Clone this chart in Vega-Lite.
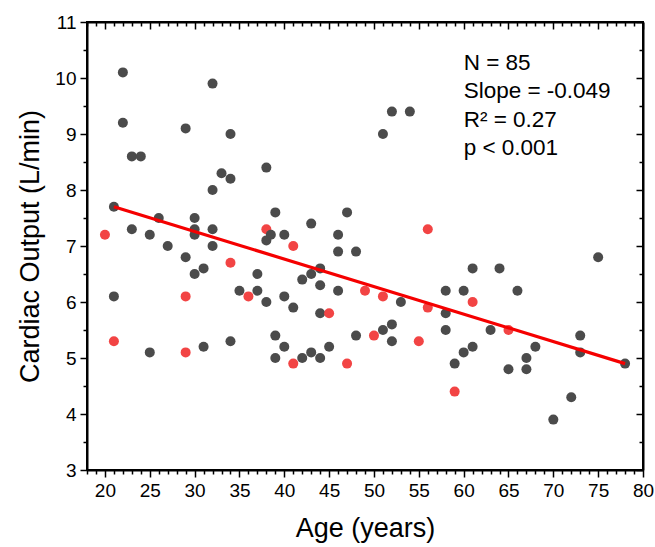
{
  "$schema": "https://vega.github.io/schema/vega-lite/v6.json",
  "width": 556,
  "height": 448,
  "autosize": {"type": "none"},
  "padding": {"left": 87, "top": 22, "right": 12, "bottom": 77},
  "config": {
    "view": {"stroke": "black", "strokeWidth": 2},
    "font": "Liberation Sans",
    "axis": {
      "domainColor": "black", "tickColor": "black", "labelColor": "black", "titleColor": "black",
      "domainWidth": 2, "tickWidth": 1.5, "grid": false,
      "labelFont": "Liberation Sans", "titleFont": "Liberation Sans", "titleFontWeight": "normal",
      "labelFontSize": 19, "titleFontSize": 27, "labelOverlap": false, "labelFlush": false
    }
  },
  "datasets": {
    "pts": [
      {"age": 38, "co": 7.3, "group": "r"},
      {"age": 22, "co": 10.1, "group": "g"},
      {"age": 32, "co": 9.9, "group": "g"},
      {"age": 22, "co": 9.2, "group": "g"},
      {"age": 29, "co": 9.1, "group": "g"},
      {"age": 34, "co": 9.0, "group": "g"},
      {"age": 23, "co": 8.6, "group": "g"},
      {"age": 24, "co": 8.6, "group": "g"},
      {"age": 38, "co": 8.4, "group": "g"},
      {"age": 33, "co": 8.3, "group": "g"},
      {"age": 34, "co": 8.2, "group": "g"},
      {"age": 32, "co": 8.0, "group": "g"},
      {"age": 21, "co": 7.7, "group": "g"},
      {"age": 52, "co": 9.4, "group": "g"},
      {"age": 54, "co": 9.4, "group": "g"},
      {"age": 51, "co": 9.0, "group": "g"},
      {"age": 39, "co": 7.6, "group": "g"},
      {"age": 47, "co": 7.6, "group": "g"},
      {"age": 23, "co": 7.3, "group": "g"},
      {"age": 25, "co": 7.2, "group": "g"},
      {"age": 26, "co": 7.5, "group": "g"},
      {"age": 27, "co": 7.0, "group": "g"},
      {"age": 29, "co": 6.8, "group": "g"},
      {"age": 30, "co": 7.5, "group": "g"},
      {"age": 30, "co": 7.3, "group": "g"},
      {"age": 30, "co": 7.2, "group": "g"},
      {"age": 30, "co": 6.5, "group": "g"},
      {"age": 31, "co": 6.6, "group": "g"},
      {"age": 32, "co": 7.3, "group": "g"},
      {"age": 32, "co": 7.0, "group": "g"},
      {"age": 21, "co": 6.1, "group": "g"},
      {"age": 35, "co": 6.2, "group": "g"},
      {"age": 37, "co": 6.5, "group": "g"},
      {"age": 37, "co": 6.2, "group": "g"},
      {"age": 38, "co": 6.0, "group": "g"},
      {"age": 38, "co": 7.1, "group": "g"},
      {"age": 38.5, "co": 7.2, "group": "g"},
      {"age": 40, "co": 7.2, "group": "g"},
      {"age": 43, "co": 7.4, "group": "g"},
      {"age": 46, "co": 7.2, "group": "g"},
      {"age": 46, "co": 6.9, "group": "g"},
      {"age": 48, "co": 6.9, "group": "g"},
      {"age": 40, "co": 6.1, "group": "g"},
      {"age": 41, "co": 5.9, "group": "g"},
      {"age": 42, "co": 6.4, "group": "g"},
      {"age": 43, "co": 6.5, "group": "g"},
      {"age": 44, "co": 6.6, "group": "g"},
      {"age": 44, "co": 6.3, "group": "g"},
      {"age": 46, "co": 6.2, "group": "g"},
      {"age": 53, "co": 6.0, "group": "g"},
      {"age": 58, "co": 6.2, "group": "g"},
      {"age": 58, "co": 5.8, "group": "g"},
      {"age": 58, "co": 5.5, "group": "g"},
      {"age": 44, "co": 5.8, "group": "g"},
      {"age": 51, "co": 5.5, "group": "g"},
      {"age": 52, "co": 5.6, "group": "g"},
      {"age": 75, "co": 6.8, "group": "g"},
      {"age": 61, "co": 6.6, "group": "g"},
      {"age": 64, "co": 6.6, "group": "g"},
      {"age": 60, "co": 6.2, "group": "g"},
      {"age": 66, "co": 6.2, "group": "g"},
      {"age": 63, "co": 5.5, "group": "g"},
      {"age": 25, "co": 5.1, "group": "g"},
      {"age": 31, "co": 5.2, "group": "g"},
      {"age": 34, "co": 5.3, "group": "g"},
      {"age": 39, "co": 5.4, "group": "g"},
      {"age": 40, "co": 5.2, "group": "g"},
      {"age": 39, "co": 5.0, "group": "g"},
      {"age": 42, "co": 5.0, "group": "g"},
      {"age": 43, "co": 5.1, "group": "g"},
      {"age": 44, "co": 5.0, "group": "g"},
      {"age": 45, "co": 5.2, "group": "g"},
      {"age": 48, "co": 5.4, "group": "g"},
      {"age": 52, "co": 5.3, "group": "g"},
      {"age": 59, "co": 4.9, "group": "g"},
      {"age": 60, "co": 5.1, "group": "g"},
      {"age": 61, "co": 5.2, "group": "g"},
      {"age": 65, "co": 4.8, "group": "g"},
      {"age": 67, "co": 5.0, "group": "g"},
      {"age": 67, "co": 4.8, "group": "g"},
      {"age": 68, "co": 5.2, "group": "g"},
      {"age": 70, "co": 3.9, "group": "g"},
      {"age": 72, "co": 4.3, "group": "g"},
      {"age": 73, "co": 5.4, "group": "g"},
      {"age": 73, "co": 5.1, "group": "g"},
      {"age": 78, "co": 4.9, "group": "g"},
      {"age": 20, "co": 7.2, "group": "r"},
      {"age": 29, "co": 6.1, "group": "r"},
      {"age": 34, "co": 6.7, "group": "r"},
      {"age": 36, "co": 6.1, "group": "r"},
      {"age": 41, "co": 7.0, "group": "r"},
      {"age": 56, "co": 7.3, "group": "r"},
      {"age": 49, "co": 6.2, "group": "r"},
      {"age": 51, "co": 6.1, "group": "r"},
      {"age": 56, "co": 5.9, "group": "r"},
      {"age": 45, "co": 5.8, "group": "r"},
      {"age": 61, "co": 6.0, "group": "r"},
      {"age": 65, "co": 5.5, "group": "r"},
      {"age": 21, "co": 5.3, "group": "r"},
      {"age": 29, "co": 5.1, "group": "r"},
      {"age": 41, "co": 4.9, "group": "r"},
      {"age": 47, "co": 4.9, "group": "r"},
      {"age": 50, "co": 5.4, "group": "r"},
      {"age": 55, "co": 5.3, "group": "r"},
      {"age": 59, "co": 4.4, "group": "r"}
    ],
    "fit": [
      {"age": 21, "co": 7.7},
      {"age": 78, "co": 4.9}
    ],
    "stats": [
      {"age": 60, "co": 10.27, "label": "N = 85"},
      {"age": 60, "co": 9.76, "label": "Slope = -0.049"},
      {"age": 60, "co": 9.25, "label": "R² = 0.27"},
      {"age": 60, "co": 8.75, "label": "p < 0.001"}
    ]
  },
  "layer": [
    {
      "data": {"name": "pts"},
      "mark": {"type": "circle", "size": 100, "opacity": 1},
      "encoding": {
        "x": {
          "field": "age", "type": "quantitative",
          "scale": {"domain": [18, 80], "nice": false, "zero": false},
          "axis": {
            "orient": "bottom", "title": "Age (years)",
            "values": [18,19,20,21,22,23,24,25,26,27,28,29,30,31,32,33,34,35,36,37,38,39,40,41,42,43,44,45,46,47,48,49,50,51,52,53,54,55,56,57,58,59,60,61,62,63,64,65,66,67,68,69,70,71,72,73,74,75,76,77,78,79,80],
            "tickSize": {"condition": {"test": "datum.value % 5 === 0", "value": 7}, "value": 4},
            "labelExpr": "datum.value % 5 === 0 ? datum.label : ''",
            "labelPadding": 4, "titlePadding": 15
          }
        },
        "y": {
          "field": "co", "type": "quantitative",
          "scale": {"domain": [3, 11], "nice": false, "zero": false},
          "axis": {
            "orient": "left", "title": "Cardiac Output (L/min)", "format": ".0f",
            "values": [3,3.5,4,4.5,5,5.5,6,6.5,7,7.5,8,8.5,9,9.5,10,10.5,11],
            "tickSize": {"condition": {"test": "datum.value % 1 === 0", "value": 7}, "value": 4},
            "labelExpr": "datum.value % 1 === 0 ? datum.label : ''",
            "labelPadding": 4, "titlePadding": 10
          }
        },
        "color": {
          "field": "group", "type": "nominal",
          "scale": {"domain": ["g", "r"], "range": ["#4b4b4b", "#f24444"]},
          "legend": null
        }
      }
    },
    {
      "data": {"name": "fit"},
      "mark": {"type": "line", "color": "#f50000", "strokeWidth": 3.2},
      "encoding": {
        "x": {
          "field": "age", "type": "quantitative",
          "scale": {"domain": [18, 80], "nice": false, "zero": false},
          "axis": {
            "orient": "bottom", "offset": -448, "title": null, "labels": false,
            "values": [18,19,20,21,22,23,24,25,26,27,28,29,30,31,32,33,34,35,36,37,38,39,40,41,42,43,44,45,46,47,48,49,50,51,52,53,54,55,56,57,58,59,60,61,62,63,64,65,66,67,68,69,70,71,72,73,74,75,76,77,78,79,80],
            "tickSize": {"condition": {"test": "datum.value % 5 === 0", "value": 7}, "value": 4}
          }
        },
        "y": {
          "field": "co", "type": "quantitative",
          "scale": {"domain": [3, 11], "nice": false, "zero": false},
          "axis": {
            "orient": "left", "offset": -556, "title": null, "labels": false,
            "values": [3,3.5,4,4.5,5,5.5,6,6.5,7,7.5,8,8.5,9,9.5,10,10.5,11],
            "tickSize": {"condition": {"test": "datum.value % 1 === 0", "value": 7}, "value": 4}
          }
        }
      }
    },
    {
      "data": {"name": "stats"},
      "mark": {"type": "text", "align": "left", "baseline": "middle", "fontSize": 22.5, "font": "Liberation Sans", "color": "black"},
      "encoding": {
        "x": {"field": "age", "type": "quantitative", "scale": {"domain": [18, 80], "nice": false, "zero": false}, "axis": null},
        "y": {"field": "co", "type": "quantitative", "scale": {"domain": [3, 11], "nice": false, "zero": false}, "axis": null},
        "text": {"field": "label"}
      }
    }
  ],
  "resolve": {"axis": {"x": "independent", "y": "independent"}}
}
